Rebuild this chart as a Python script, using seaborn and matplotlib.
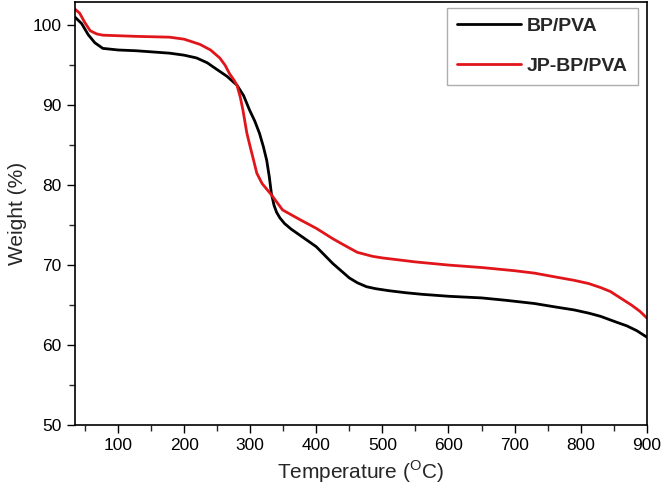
import matplotlib
matplotlib.use("Agg")
import matplotlib.pyplot as plt
from matplotlib.ticker import MultipleLocator
import seaborn as sns
import pandas as pd

# values
temp_bp = [35, 45, 55, 65, 77, 100, 128, 178, 200, 219, 235, 249, 265, 280, 290, 299,
           307, 314, 320, 325, 329, 332, 336, 340, 345, 352, 362, 375, 400, 425, 450,
           462, 476, 490, 510, 535, 560, 601, 650, 687, 730, 763, 790, 812, 830, 853,
           870, 885, 900]
weight_bp = [101.0, 100.2, 98.8, 97.8, 97.1, 96.9, 96.8, 96.5, 96.25, 95.9, 95.3, 94.5,
             93.6, 92.5, 91.2, 89.4, 88.0, 86.5, 84.8, 83.1, 81.0, 79.0, 77.5, 76.6,
             75.9, 75.2, 74.5, 73.75, 72.3, 70.2, 68.4, 67.8, 67.3, 67.05, 66.8, 66.55,
             66.35, 66.1, 65.9, 65.6, 65.2, 64.75, 64.4, 64.0, 63.6, 62.9, 62.4, 61.8,
             61.0]

temp_jp = [35, 42, 50, 58, 68, 77, 128, 178, 200, 224, 240, 254, 262, 269, 275, 280,
           285, 289, 295, 300, 304, 310, 318, 332, 349, 375, 400, 425, 440, 462, 485,
           500, 550, 601, 650, 700, 730, 763, 790, 812, 830, 845, 860, 877, 890, 900]
weight_jp = [102.0, 101.5, 100.3, 99.3, 98.9, 98.75, 98.6, 98.5, 98.25, 97.6, 96.9,
             95.9, 95.0, 93.9, 93.2, 92.5, 91.0, 89.4, 86.5, 84.8, 83.5, 81.5, 80.2,
             78.8, 76.9, 75.7, 74.6, 73.3, 72.6, 71.6, 71.1, 70.9, 70.4, 70.0, 69.7,
             69.3, 69.0, 68.5, 68.1, 67.7, 67.2, 66.7, 65.9, 65.0, 64.2, 63.4]

labels = ["BP/PVA", "JP-BP/PVA"]
colors = ["#000000", "#e0161b"]

df = pd.concat([
    pd.DataFrame({"T": temp_bp, "W": weight_bp, "sample": labels[0]}),
    pd.DataFrame({"T": temp_jp, "W": weight_jp, "sample": labels[1]}),
])

sns.set_style("ticks")
plt.rcParams["font.family"] = ["Liberation Sans", "DejaVu Sans"]

fig = plt.figure(figsize=(6.64, 4.96), dpi=100)
ax = fig.add_axes([0.113, 0.143, 0.861, 0.853])

sns.lineplot(data=df, x="T", y="W", hue="sample", palette=colors, sort=False,
             estimator=None, linewidth=2, ax=ax)

ax.set_xlim(35, 900)
ax.set_ylim(50, 102.9)
ax.xaxis.set_major_locator(MultipleLocator(100))
ax.xaxis.set_minor_locator(MultipleLocator(50))
ax.yaxis.set_major_locator(MultipleLocator(10))
ax.yaxis.set_minor_locator(MultipleLocator(5))
ax.tick_params(which="major", direction="out", length=6, width=1, labelsize=12.5, colors="black")
ax.tick_params(which="minor", direction="out", length=4, width=1)
for s in ax.spines.values():
    s.set_visible(True)
    s.set_color("black")
    s.set_linewidth(1.2)

ax.set_xlabel("Temperature ($^{\\mathregular{O}}$C)", fontsize=15)
ax.set_ylabel("Weight (%)", fontsize=15)

leg = ax.legend(loc="upper right", bbox_to_anchor=(0.984, 0.986), borderaxespad=0,
                frameon=True, fancybox=False, edgecolor="#999999", handlelength=3.3,
                handletextpad=0.3, labelspacing=1.15, borderpad=0.5,
                prop={"weight": "bold", "size": 14})
leg.get_frame().set_linewidth(1)
for line in leg.get_lines():
    line.set_linewidth(2)

plt.savefig("out.png", dpi=100)
